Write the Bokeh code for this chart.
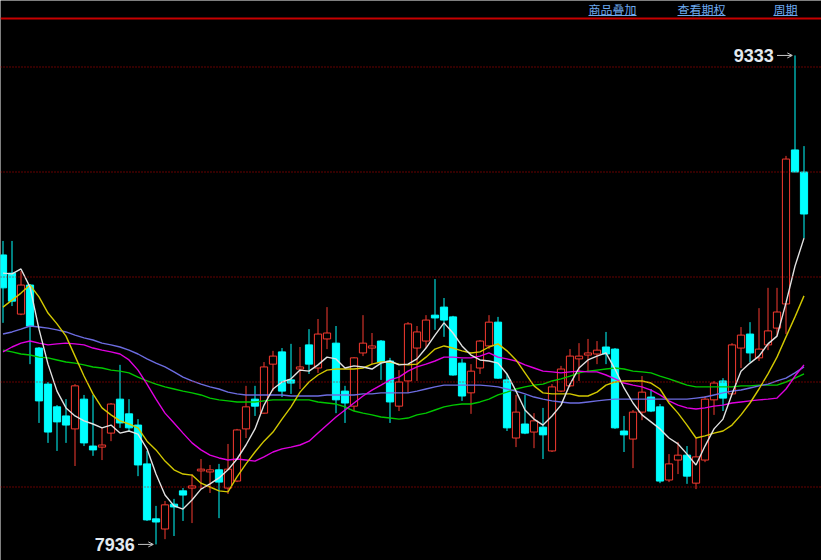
from bokeh.plotting import figure
from bokeh.models import ColumnDataSource, Range1d, Span, Arrow, OpenHead
from bokeh.embed import file_html
from bokeh.resources import INLINE
from bokeh.core.properties import value

# ---- daily bars (oldest first) ----
opens = [8763, 8711, 8594, 8677, 8497, 8394, 8329, 8303, 8266, 8351,
         8217, 8214, 8254, 8351, 8309, 8277, 8166, 8009, 7980, 8051,
         8089, 8097, 8146, 8143, 8149, 8097, 8117, 8266, 8351, 8311,
         8451, 8486, 8406, 8437, 8506, 8440, 8523, 8511, 8374, 8331,
         8483, 8497, 8517, 8460, 8331, 8403, 8497, 8517, 8591, 8614,
         8586, 8454, 8369, 8440, 8503, 8571, 8406, 8240, 8280, 8257,
         8271, 8203, 8374, 8389, 8466, 8477, 8480, 8500, 8494, 8260,
         8237, 8314, 8357, 8329, 8120, 8177, 8191, 8111, 8177, 8349,
         8403, 8366, 8497, 8537, 8469, 8506, 8554, 8623, 9063, 9000]
highs = [8803, 8803, 8717, 8680, 8500, 8400, 8334, 8351, 8394, 8363,
         8363, 8269, 8340, 8449, 8351, 8294, 8203, 8046, 8060, 8066,
         8097, 8137, 8180, 8163, 8166, 8223, 8266, 8389, 8389, 8457,
         8489, 8497, 8509, 8500, 8551, 8580, 8614, 8560, 8389, 8471,
         8591, 8540, 8520, 8469, 8434, 8571, 8560, 8591, 8694, 8640,
         8589, 8466, 8451, 8520, 8591, 8586, 8423, 8363, 8363, 8311,
         8326, 8394, 8446, 8494, 8511, 8523, 8517, 8543, 8497, 8303,
         8320, 8417, 8380, 8337, 8194, 8229, 8217, 8240, 8360, 8403,
         8411, 8511, 8557, 8571, 8611, 8669, 8669, 9046, 9333, 9074]
lows = [8569, 8617, 8591, 8451, 8283, 8226, 8203, 8226, 8160, 8217,
        8189, 8177, 8231, 8269, 8260, 8131, 8003, 7936, 7951, 7960,
        8003, 7997, 8094, 8083, 8011, 8080, 8114, 8240, 8303, 8309,
        8374, 8357, 8366, 8380, 8423, 8426, 8494, 8311, 8283, 8317,
        8474, 8451, 8406, 8283, 8317, 8369, 8403, 8497, 8549, 8529,
        8418, 8346, 8309, 8423, 8494, 8409, 8260, 8214, 8251, 8211,
        8180, 8200, 8371, 8386, 8403, 8431, 8451, 8451, 8266, 8200,
        8154, 8291, 8314, 8111, 8114, 8137, 8109, 8094, 8171, 8306,
        8317, 8363, 8440, 8457, 8460, 8491, 8531, 8537, 9000, 8811]
closes = [8669, 8631, 8677, 8560, 8346, 8257, 8286, 8277, 8389, 8226,
          8206, 8220, 8337, 8283, 8269, 8163, 8006, 8000, 8049, 8043,
          8077, 8103, 8151, 8149, 8114, 8151, 8263, 8329, 8331, 8443,
          8474, 8374, 8397, 8443, 8451, 8537, 8540, 8349, 8340, 8469,
          8511, 8503, 8457, 8343, 8400, 8566, 8543, 8577, 8583, 8577,
          8420, 8360, 8431, 8517, 8571, 8411, 8269, 8314, 8254, 8289,
          8249, 8386, 8437, 8474, 8474, 8483, 8491, 8480, 8269, 8249,
          8314, 8371, 8317, 8117, 8166, 8191, 8131, 8186, 8351, 8397,
          8354, 8506, 8534, 8483, 8494, 8546, 8600, 9037, 9000, 8880]

# ---- moving averages ----
ma5 = [8711, 8709, 8723, 8671, 8551, 8451, 8374, 8326, 8303, 8289,
       8280, 8269, 8277, 8254, 8260, 8251, 8209, 8137, 8077, 8046,
       8037, 8063, 8094, 8109, 8126, 8149, 8180, 8220, 8266, 8334,
       8380, 8400, 8409, 8434, 8431, 8449, 8471, 8466, 8440, 8446,
       8443, 8437, 8454, 8460, 8449, 8451, 8466, 8497, 8534, 8569,
       8540, 8503, 8477, 8463, 8460, 8454, 8423, 8374, 8320, 8294,
       8277, 8303, 8334, 8394, 8440, 8463, 8474, 8483, 8437, 8383,
       8340, 8306, 8286, 8266, 8240, 8223, 8194, 8163, 8217, 8266,
       8294, 8366, 8431, 8454, 8474, 8509, 8531, 8626, 8731, 8811]
ma10 = [8614, 8634, 8654, 8677, 8643, 8597, 8566, 8531, 8474, 8417,
        8366, 8326, 8306, 8289, 8280, 8269, 8231, 8206, 8174, 8149,
        8137, 8134, 8111, 8100, 8089, 8086, 8129, 8166, 8200, 8231,
        8257, 8294, 8329, 8371, 8400, 8420, 8434, 8437, 8437, 8437,
        8440, 8451, 8457, 8457, 8451, 8449, 8451, 8471, 8494, 8503,
        8497, 8489, 8483, 8486, 8500, 8509, 8489, 8463, 8426, 8389,
        8369, 8366, 8366, 8366, 8360, 8360, 8371, 8391, 8400, 8403,
        8403, 8403, 8397, 8380, 8340, 8311, 8277, 8240, 8246, 8254,
        8260, 8277, 8306, 8340, 8380, 8423, 8471, 8529, 8586, 8646]
ma20 = [8486, 8500, 8511, 8517, 8511, 8506, 8509, 8511, 8509, 8506,
        8497, 8491, 8486, 8480, 8463, 8434, 8394, 8351, 8311, 8283,
        8254, 8226, 8206, 8191, 8183, 8177, 8180, 8177, 8174, 8186,
        8200, 8209, 8214, 8220, 8231, 8254, 8277, 8300, 8320, 8340,
        8360, 8377, 8391, 8406, 8414, 8431, 8443, 8451, 8460, 8471,
        8471, 8469, 8469, 8474, 8483, 8471, 8466, 8460, 8449, 8440,
        8431, 8429, 8426, 8429, 8431, 8429, 8429, 8420, 8409, 8397,
        8391, 8386, 8377, 8363, 8346, 8334, 8326, 8323, 8326, 8331,
        8334, 8340, 8343, 8346, 8349, 8351, 8354, 8380, 8417, 8449]
ma30 = [8537, 8543, 8551, 8560, 8557, 8554, 8549, 8543, 8534, 8526,
        8520, 8511, 8506, 8500, 8491, 8480, 8466, 8454, 8443, 8429,
        8414, 8403, 8394, 8386, 8380, 8371, 8366, 8363, 8363, 8363,
        8363, 8363, 8360, 8360, 8360, 8360, 8363, 8363, 8363, 8363,
        8366, 8366, 8369, 8369, 8369, 8369, 8374, 8380, 8386, 8391,
        8391, 8391, 8391, 8391, 8389, 8386, 8380, 8374, 8366, 8357,
        8351, 8346, 8343, 8340, 8340, 8343, 8346, 8349, 8351, 8351,
        8351, 8351, 8351, 8351, 8351, 8351, 8351, 8354, 8357, 8363,
        8369, 8374, 8377, 8383, 8389, 8394, 8403, 8411, 8426, 8443]
ma60 = [8491, 8486, 8480, 8477, 8471, 8469, 8463, 8457, 8454, 8449,
        8443, 8440, 8434, 8431, 8426, 8414, 8403, 8394, 8386, 8380,
        8374, 8369, 8363, 8354, 8349, 8346, 8343, 8343, 8343, 8346,
        8349, 8349, 8349, 8349, 8349, 8343, 8340, 8337, 8329, 8317,
        8311, 8306, 8300, 8297, 8294, 8297, 8306, 8311, 8320, 8329,
        8334, 8337, 8337, 8343, 8351, 8363, 8371, 8380, 8386, 8391,
        8394, 8403, 8409, 8417, 8426, 8431, 8434, 8437, 8440, 8437,
        8431, 8429, 8426, 8417, 8409, 8400, 8391, 8386, 8386, 8386,
        8386, 8386, 8389, 8389, 8391, 8391, 8391, 8400, 8411, 8423]

grid_levels = [8100, 8400, 8700, 9000, 9300]
menu_items = ["商品叠加", "查看期权", "周期"]

# ---- view geometry ----
W, H = 821, 560
BAR_PX = 9.0          # horizontal pixels per bar
PX_PER_PT = 0.35      # vertical pixels per price point
y_top = 9300 + 66.5 / PX_PER_PT
y_bot = y_top - H / PX_PER_PT
x_left = -2.5 / BAR_PX
x_right = x_left + W / BAR_PX


def sx(px):
    return x_left + px / BAR_PX


def sy(py):
    return y_top - py / PX_PER_PT


UP = "#f53a30"
DOWN = "#00ffff"
BG = "#000000"
LINK = "#6eaaf0"

p = figure(width=W, height=H, output_backend="svg", toolbar_location=None,
           x_axis_location=None, y_axis_location=None,
           x_range=Range1d(x_left, x_right), y_range=Range1d(y_bot, y_top),
           min_border=0, background_fill_color=BG, border_fill_color=BG,
           outline_line_color=None)
p.grid.visible = False

# horizontal price guides
for lvl in grid_levels:
    p.add_layout(Span(location=lvl, dimension="width", line_color="#cc0000",
                      line_width=1, line_dash="1 2"))
# header separator
p.add_layout(Span(location=sy(18), dimension="width", line_color="#c80000",
                  line_width=2))

idx = list(range(len(closes)))
is_up = [c >= o for o, c in zip(opens, closes)]
colors = [UP if u else DOWN for u in is_up]
fills = [BG if u else DOWN for u in is_up]
src = ColumnDataSource(dict(
    x=idx, o=opens, h=highs, l=lows, c=closes,
    top=[max(o, c) for o, c in zip(opens, closes)],
    bottom=[min(o, c) for o, c in zip(opens, closes)],
    color=colors, fill=fills,
))

p.segment(x0="x", y0="h", x1="x", y1="l", line_color="color", line_width=1, source=src)
p.vbar(x="x", width=0.8, top="top", bottom="bottom", fill_color="fill",
       line_color="color", line_width=1, source=src)

# moving averages
for series, col in [(ma60, "#00c800"), (ma30, "#6c6ce0"), (ma20, "#e000e0"),
                    (ma10, "#d2c800"), (ma5, "#e2e2e2")]:
    p.line(idx, series, line_color=col, line_width=1.4)

# extreme markers
hi_val = max(highs)
lo_val = min(lows)
hi_i = highs.index(hi_val)
lo_i = lows.index(lo_val)
for i_ext, v_ext in [(hi_i, hi_val), (lo_i, lo_val)]:
    tip = i_ext - 0.3
    tail = tip - 1.7
    p.add_layout(Arrow(x_start=tail, y_start=v_ext, x_end=tip, y_end=v_ext,
                       line_color="#c8c8c8", line_width=1,
                       end=OpenHead(size=5, line_color="#c8c8c8", line_width=1)))
    p.text(x=[tail - 0.35], y=[v_ext], text=[str(v_ext)],
           text_font=value("Liberation Sans"), text_font_style="bold",
           text_font_size="18px", text_color="#e4eaf0",
           text_align="right", text_baseline="middle")

# header links, centred over their underlines
menu_center = [612, 701, 785]
FONT_PX = 12
for label, cx in zip(menu_items, menu_center):
    half = FONT_PX * len(label) / 2
    p.text(x=[sx(cx)], y=[sy(0.5)], text=[label],
           text_font=value("Noto Sans CJK SC"), text_font_size=f"{FONT_PX}px",
           text_color=LINK, text_align="center", text_baseline="top")
    p.segment(x0=[sx(cx - half)], y0=[sy(15)], x1=[sx(cx + half)],
              y1=[sy(15)], line_color=LINK, line_width=1)

open("out.html", "w").write(file_html(p, INLINE))
